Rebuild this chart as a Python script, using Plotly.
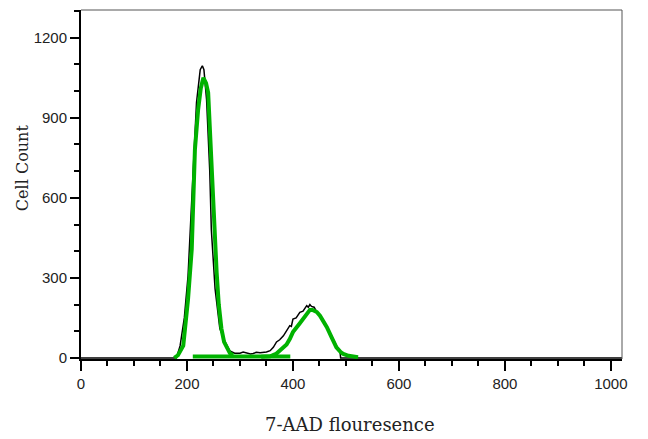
import plotly.graph_objects as go

# Raw histogram (black)
raw_x = [0, 180, 187, 195, 202, 206, 212, 218, 225, 229, 232, 237, 243, 246, 253, 262, 272, 281,
         290, 300, 306, 315, 320, 325, 331, 338, 345, 350, 357, 363, 369, 375, 382, 388, 394, 397,
         400, 406, 413, 419, 426, 429, 432, 435, 440, 445, 455, 465, 475, 485, 489, 490, 1021]
raw_y = [0, 0, 45, 150, 307, 482, 755, 957, 1080, 1095, 1080, 968, 700, 480, 260, 110, 60, 26,
         18, 18, 22, 17, 15, 17, 21, 19, 20, 22, 27, 40, 60, 68, 83, 100, 121, 118,
         146, 150, 171, 175, 196, 190, 200, 193, 190, 172, 150, 112, 72, 32, 20, 0, 0]

# Model fit components (green)
g1_x = [176, 183, 193, 202, 209, 212, 215, 221, 226, 231, 236, 240, 243, 247, 250, 253, 256,
        260, 265, 270, 275, 281, 287]
g1_y = [0, 10, 46, 220, 407, 594, 781, 930, 1010, 1050, 1030, 994, 860, 700, 590, 450, 320,
        200, 110, 60, 40, 18, 10]

s_x = [211, 300, 395]
s_y = [5, 6, 5]

g2_x = [340, 357, 368, 375, 388, 394, 400, 413, 426, 432, 437, 445, 451, 458, 464, 473, 482,
        490, 495, 505, 523]
g2_y = [4, 6, 15, 27, 50, 71, 97, 130, 164, 180, 180, 172, 158, 138, 115, 77, 40,
        22, 15, 8, 3]

green = "rgb(0,178,0)"

fig = go.Figure()
fig.add_trace(go.Scatter(x=raw_x, y=raw_y, mode="lines",
                         line=dict(color="black", width=1.5), showlegend=False))
for xs, ys in [(s_x, s_y), (g1_x, g1_y), (g2_x, g2_y)]:
    fig.add_trace(go.Scatter(x=xs, y=ys, mode="lines",
                             line=dict(color=green, width=4), showlegend=False))

tickfont = dict(family="Liberation Sans, Arial, sans-serif", size=15, color="#222")

# page body has an 8px margin, so the figure is sized/margined to compensate
fig.update_layout(
    width=640, height=431,
    margin=dict(l=73, r=26, t=2, b=80),
    plot_bgcolor="white", paper_bgcolor="white",
    xaxis=dict(range=[0, 1021], tick0=0, dtick=200, ticks="outside", ticklen=10,
               tickwidth=2, tickcolor="black", showline=True, linecolor="black",
               linewidth=2, showgrid=False, zeroline=False, tickfont=tickfont,
               minor=dict(dtick=50, ticks="outside", ticklen=5, tickwidth=2,
                          tickcolor="black", showgrid=False)),
    yaxis=dict(range=[-4, 1304], tick0=0, dtick=300, ticks="outside", ticklen=9,
               tickwidth=2, tickcolor="black", showline=True, linecolor="black",
               linewidth=2, showgrid=False, zeroline=False, tickfont=tickfont,
               minor=dict(dtick=100, ticks="outside", ticklen=5, tickwidth=2,
                          tickcolor="black", showgrid=False)),
    shapes=[
        dict(type="line", xref="paper", yref="paper", x0=0, x1=1, y0=1, y1=1,
             line=dict(color="#555", width=1)),
        dict(type="line", xref="paper", yref="paper", x0=1, x1=1, y0=0, y1=1,
             line=dict(color="#555", width=1)),
    ],
    annotations=[
        dict(text="Cell Count", xref="paper", yref="paper", x=-0.109, y=0.547,
             xanchor="center", yanchor="middle",
             textangle=-90, showarrow=False,
             font=dict(family="DejaVu Serif, serif", size=16, color="#222")),
        dict(text="7-AAD flouresence", xref="paper", yref="paper", x=0.497, y=-0.189,
             xanchor="center", yanchor="middle",
             showarrow=False,
             font=dict(family="DejaVu Serif, serif", size=18, color="#222")),
    ],
)

fig.write_html("out.html")
